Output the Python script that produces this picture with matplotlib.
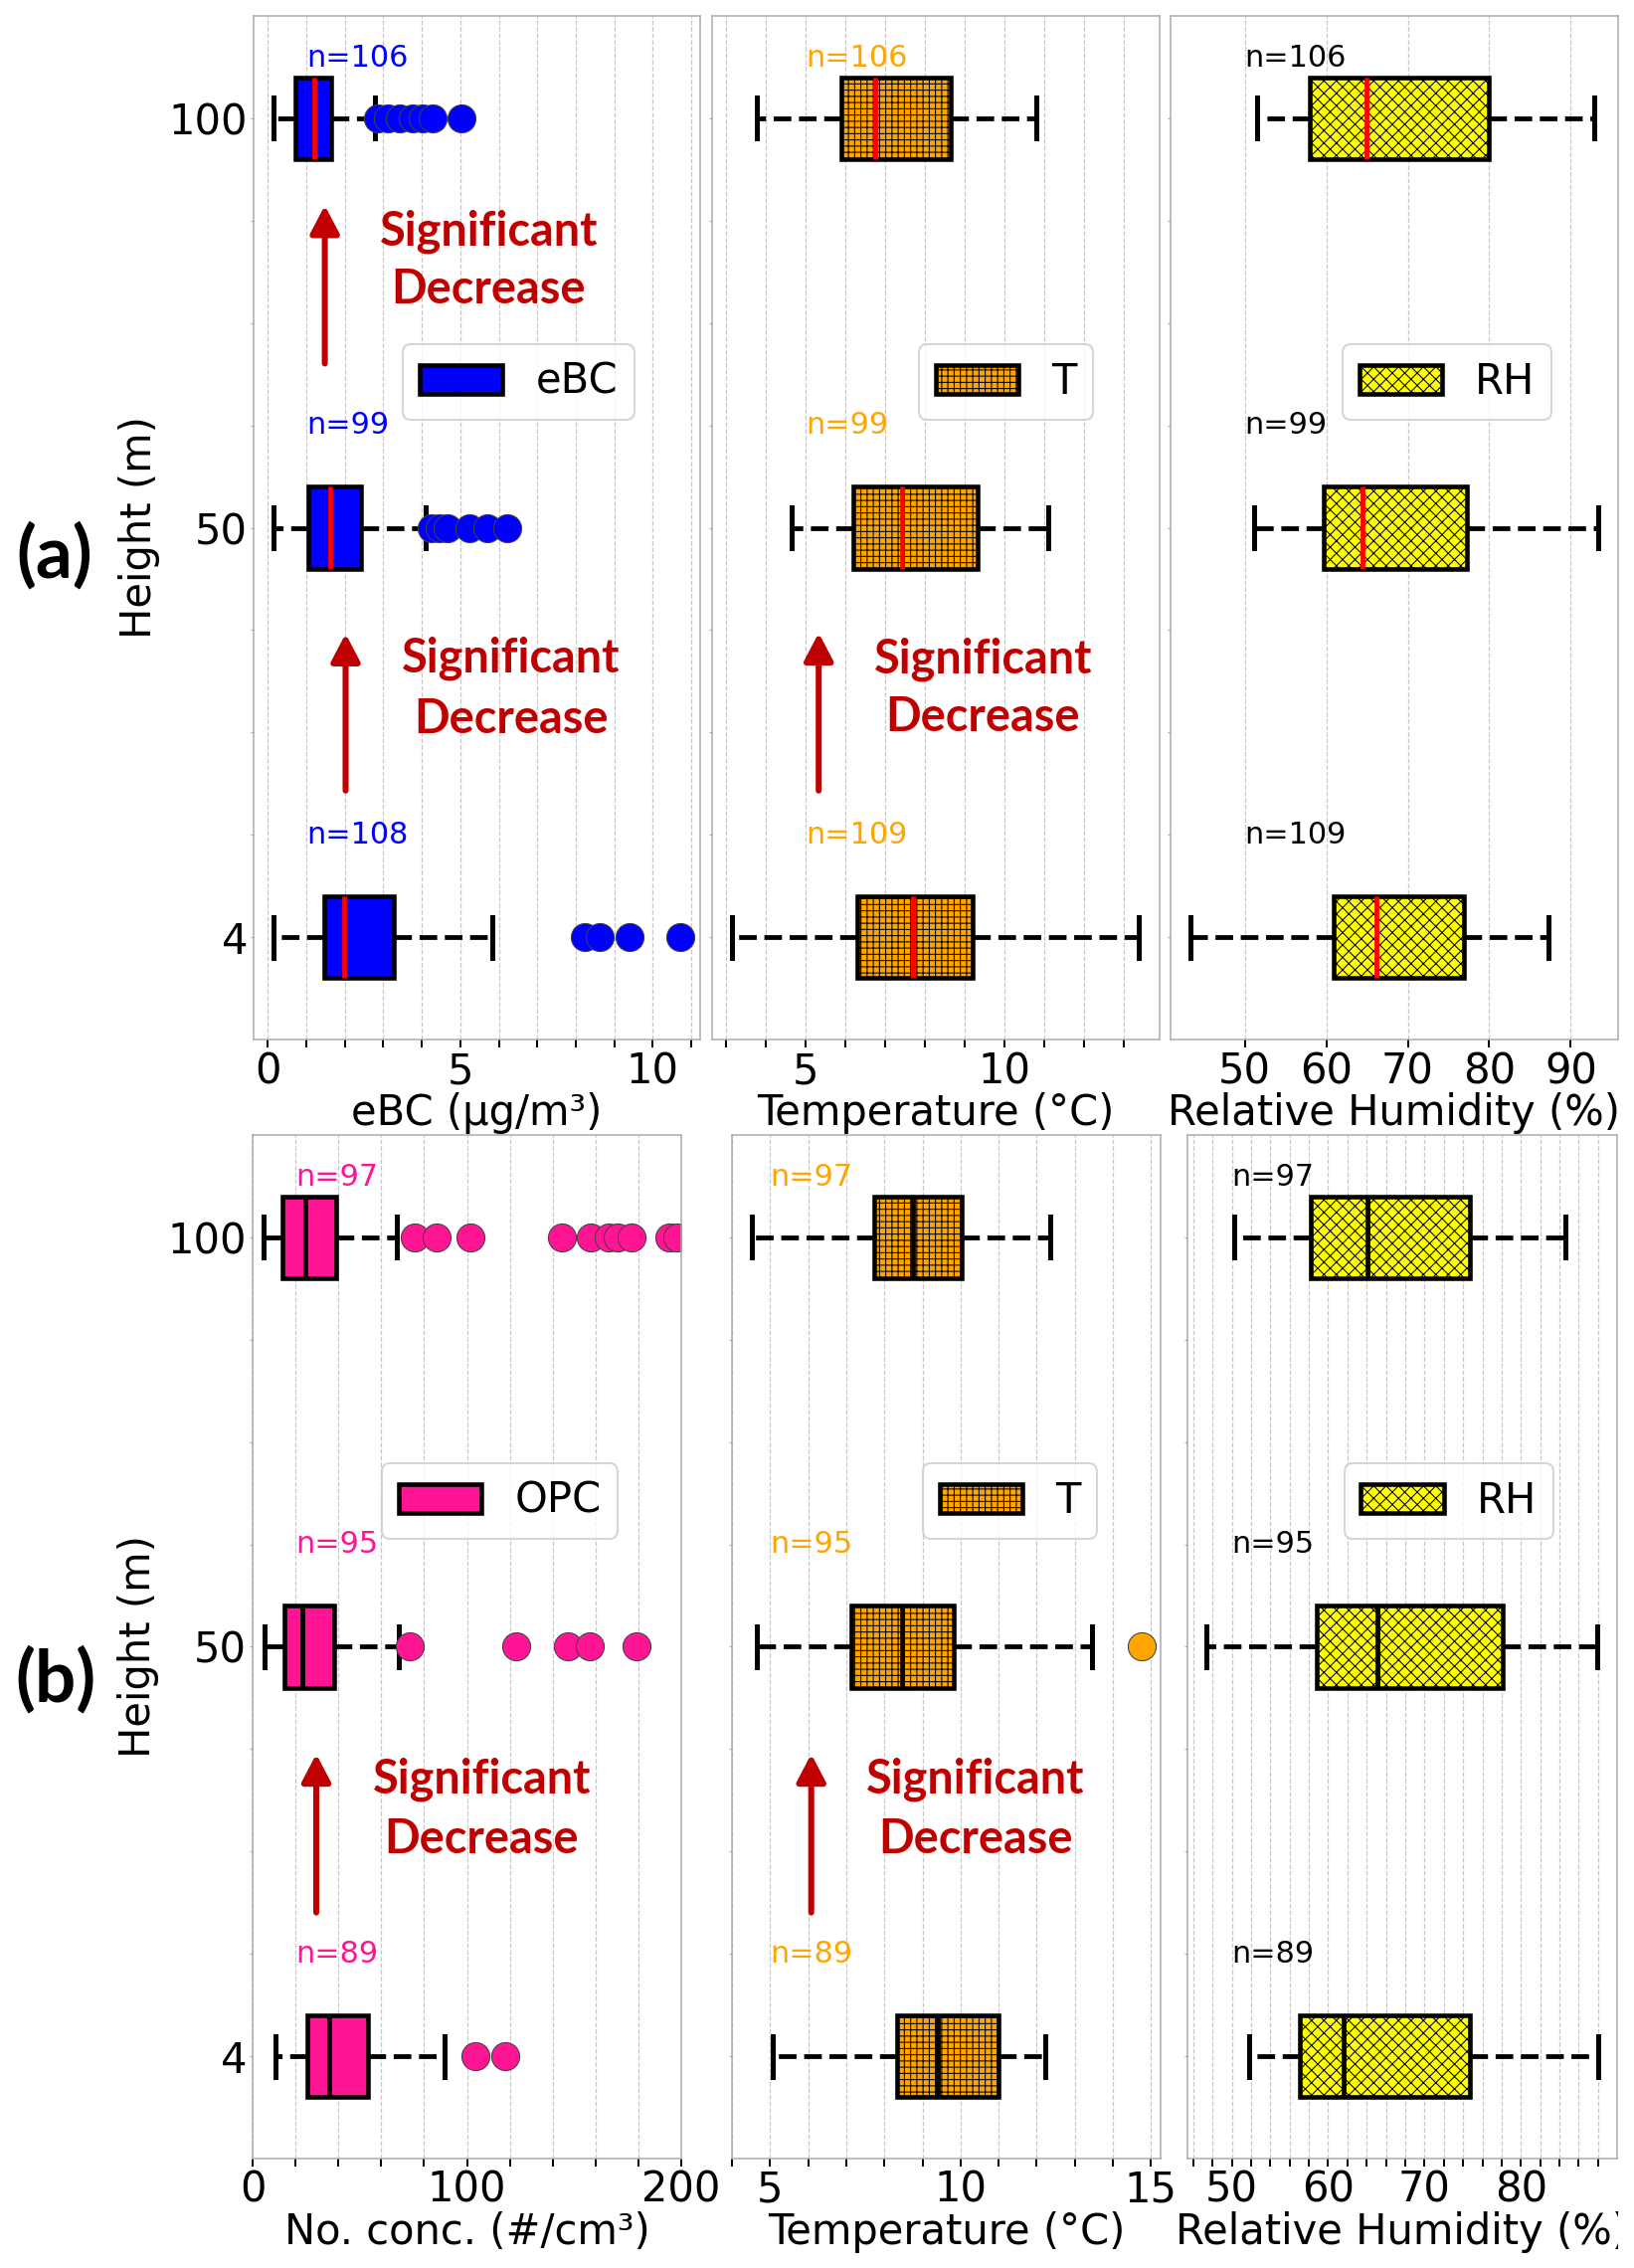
import matplotlib
matplotlib.use('Agg')
import matplotlib.pyplot as plt
from matplotlib.ticker import MultipleLocator, FixedLocator, NullLocator
from matplotlib.transforms import Bbox, TransformedBbox

DPI = 150
def px(v):
    return v * 72.0 / DPI

plt.rcParams['font.family'] = ['DejaVu Sans']
plt.rcParams['hatch.linewidth'] = 0.5

# ---------------- data ----------------
heights = ['4', '50', '100']          # categorical positions 1, 2, 3

# panel (a)
ebc_whislo = [0.15, 0.15, 0.15]
ebc_q1 = [1.47, 1.05, 0.72]
ebc_med = [1.98, 1.63, 1.20]
ebc_q3 = [3.27, 2.41, 1.64]
ebc_whishi = [5.83, 4.11, 2.77]
ebc_fliers = [[8.23, 8.63, 9.39, 10.72],
              [4.26, 4.47, 4.67, 5.23, 5.70, 6.21],
              [2.86, 3.12, 3.42, 3.77, 4.02, 4.28, 5.03]]
ebc_n = [108, 99, 106]

ta_whislo = [3.15, 4.65, 3.78]
ta_q1 = [6.31, 6.20, 5.90]
ta_med = [7.71, 7.42, 6.76]
ta_q3 = [9.20, 9.32, 8.65]
ta_whishi = [13.38, 11.11, 10.80]
ta_fliers = [[], [], []]
ta_n = [109, 99, 106]

rha_whislo = [43.4, 51.1, 51.5]
rha_q1 = [60.9, 59.7, 58.0]
rha_med = [66.2, 64.4, 64.9]
rha_q3 = [76.9, 77.3, 80.0]
rha_whishi = [87.2, 93.3, 92.9]
rha_fliers = [[], [], []]
rha_n = [109, 99, 106]

# panel (b)
opc_whislo = [10.5, 5.6, 5.1]
opc_q1 = [25.5, 15.0, 14.1]
opc_med = [35.7, 23.2, 24.4]
opc_q3 = [53.8, 38.0, 38.8]
opc_whishi = [89.7, 68.4, 67.1]
opc_fliers = [[104.1, 118.0],
              [73.1, 123.0, 147.3, 157.4, 179.0],
              [75.8, 86.0, 101.8, 144.3, 158.0, 166.0, 170.3, 176.8, 194.6, 198.0]]
opc_n = [89, 95, 97]

tb_whislo = [5.06, 4.65, 4.52]
tb_q1 = [8.34, 7.12, 7.72]
tb_med = [9.40, 8.46, 8.74]
tb_q3 = [11.00, 9.83, 10.02]
tb_whishi = [12.22, 13.44, 12.35]
tb_fliers = [[], [14.75], []]
tb_n = [89, 95, 97]

rhb_whislo = [51.8, 47.4, 50.2]
rhb_q1 = [57.1, 58.8, 58.2]
rhb_med = [61.6, 65.1, 64.1]
rhb_q3 = [74.7, 78.1, 74.7]
rhb_whishi = [88.0, 87.9, 84.6]
rhb_fliers = [[], [], []]
rhb_n = [89, 95, 97]

# vertical offsets of the "n=" labels above each box (positions 1, 2, 3)
n_offsets = [0.229, 0.229, 0.127]

# annotations: (x, y_tail, y_tip) arrows and (x, y_line1, y_line2) texts
arrows = {
    'a_ebc': [(1.48, 2.401, 2.787), (2.02, 1.358, 1.741)],
    'a_t': [(5.33, 1.358, 1.743)],
    'b_opc': [(29.7, 1.351, 1.738)],
    'b_t': [(6.08, 1.351, 1.738)],
}
sig_texts = {
    'a_ebc': [(5.74, 2.689, 2.547), (6.31, 1.647, 1.499)],
    'a_t': [(9.46, 1.645, 1.502)],
    'b_opc': [(106.8, 1.643, 1.496)],
    'b_t': [(10.39, 1.643, 1.496)],
}

# ---------------- figure ----------------
fig = plt.figure(figsize=(1643 / DPI, 2280 / DPI), dpi=DPI)

H = 1029 / 2280
ya = (2280 - 1045) / 2280
yb = (2280 - 2170) / 2280
ax_pos = {
    'a_ebc': [255 / 1643, ya, 449 / 1643, H],
    'a_t': [716 / 1643, ya, 450 / 1643, H],
    'a_rh': [1177 / 1643, ya, 450 / 1643, H],
    'b_opc': [254 / 1643, yb, 431 / 1643, H],
    'b_t': [736 / 1643, yb, 431 / 1643, H],
    'b_rh': [1194 / 1643, yb, 432 / 1643, H],
}

SIG_COLOR = '#C00000'


def make_stats(wlo, q1, med, q3, whi, fl):
    out = []
    for i in range(len(q1)):
        out.append(dict(whislo=wlo[i], q1=q1[i], med=med[i], q3=q3[i],
                        whishi=whi[i], fliers=fl[i], label=heights[i]))
    return out


def draw(key, stats, color, hatch, medcolor, n, ncolor, nx, xlim, major, minor,
         xlabel, leg_label, first_col):
    ax = fig.add_axes(ax_pos[key])
    ax.set_axisbelow(True)
    bp = ax.bxp(stats, positions=[1, 2, 3], widths=0.2, vert=False,
                patch_artist=True, showfliers=True,
                boxprops=dict(facecolor=color, edgecolor='black', linewidth=2.2,
                              hatch=hatch),
                medianprops=dict(color=medcolor, linewidth=2.3),
                whiskerprops=dict(color='black', linewidth=2.3, linestyle='--'),
                capprops=dict(color='black', linewidth=2.4),
                flierprops=dict(marker='o', markerfacecolor=color,
                                markeredgecolor='#404040', markeredgewidth=0.5,
                                markersize=13.5, linestyle='none'))
    ax.set_xlim(*xlim)
    ax.set_ylim(0.75, 3.25)
    ax.xaxis.set_major_locator(MultipleLocator(major))
    if minor:
        ax.xaxis.set_minor_locator(MultipleLocator(minor))
    else:
        ax.xaxis.set_minor_locator(NullLocator())
    ax.yaxis.set_major_locator(FixedLocator([1, 2, 3]))
    ax.yaxis.set_minor_locator(FixedLocator([1.25, 1.5, 1.75, 2.25, 2.5, 2.75]))
    if first_col:
        ax.set_yticklabels(heights)
        ax.set_ylabel('Height (m)', fontsize=20)
    else:
        ax.set_yticklabels([])
    ax.grid(True, axis='x', which='both', linestyle='--', color='#c8c8c8',
            linewidth=0.6)
    ax.tick_params(axis='x', which='both', length=px(8), width=px(2),
                   color='black', labelsize=20, pad=px(3))
    ax.tick_params(axis='y', which='both', length=px(3), width=px(1.2),
                   color='#aaaaaa', labelsize=20, pad=px(3))
    for sp in ax.spines.values():
        sp.set_color('#aaaaaa')
        sp.set_linewidth(px(1.5))
    ax.set_xlabel(xlabel, fontsize=20, labelpad=0)
    for i, p in enumerate([1, 2, 3]):
        ax.text(nx, p + n_offsets[i], 'n=%d' % n[i], color=ncolor, fontsize=14.5,
                ha='left', va='baseline')
    ax.legend([bp['boxes'][0]], [leg_label], loc='upper right',
              bbox_to_anchor=(0.852, 0.679), borderaxespad=0, fontsize=20,
              framealpha=0.8)
    for (x, y0, y1) in arrows.get(key, []):
        ax.annotate('', xy=(x, y1), xytext=(x, y0),
                    arrowprops=dict(arrowstyle='-|>,head_length=0.4,head_width=0.21',
                                    color=SIG_COLOR, lw=2.9, mutation_scale=28,
                                    shrinkA=0, shrinkB=0))
    for (x, b1, b2) in sig_texts.get(key, []):
        ax.text(x, b1, 'Significant', color=SIG_COLOR, fontsize=22.5,
                family='Lato', weight='bold', ha='center', va='baseline')
        ax.text(x, b2, 'Decrease', color=SIG_COLOR, fontsize=22.5,
                family='Lato', weight='bold', ha='center', va='baseline')
    return ax


draw('a_ebc', make_stats(ebc_whislo, ebc_q1, ebc_med, ebc_q3, ebc_whishi, ebc_fliers),
     'blue', None, 'red', ebc_n, 'blue', 1.0, (-0.37, 11.23), 5, 1,
     'eBC (µg/m³)', 'eBC', True)
draw('a_t', make_stats(ta_whislo, ta_q1, ta_med, ta_q3, ta_whishi, ta_fliers),
     'orange', '++++', 'red', ta_n, 'orange', 5.0, (2.65, 13.9), 5, 1,
     'Temperature (°C)', 'T', False)
draw('a_rh', make_stats(rha_whislo, rha_q1, rha_med, rha_q3, rha_whishi, rha_fliers),
     'yellow', 'xxxx', 'red', rha_n, 'black', 50.0, (40.9, 95.8), 10, None,
     'Relative Humidity (%)', 'RH', False)
draw('b_opc', make_stats(opc_whislo, opc_q1, opc_med, opc_q3, opc_whishi, opc_fliers),
     'deeppink', None, 'black', opc_n, 'deeppink', 20.0, (0, 200), 100, 20,
     'No. conc. (#/cm³)', 'OPC', True)
draw('b_t', make_stats(tb_whislo, tb_q1, tb_med, tb_q3, tb_whishi, tb_fliers),
     'orange', '++++', 'black', tb_n, 'orange', 5.0, (4.0, 15.25), 5, 1,
     'Temperature (°C)', 'T', False)
axrh = draw('b_rh', make_stats(rhb_whislo, rhb_q1, rhb_med, rhb_q3, rhb_whishi, rhb_fliers),
            'yellow', 'xxxx', 'black', rhb_n, 'black', 50.0, (45.4, 89.98), 10, 2,
            'Relative Humidity (%)', 'RH', False)
lbl = axrh.xaxis.label
lbl.set_clip_box(TransformedBbox(Bbox([[0, 0], [1627 / 1643, 1]]), fig.transFigure))
lbl.set_clip_on(True)

fig.text(55 / 1643, 1 - 559 / 2280, '(a)', fontsize=35, family='Lato',
         weight='bold', ha='center', va='center')
fig.text(56 / 1643, 1 - 1689 / 2280, '(b)', fontsize=35, family='Lato',
         weight='bold', ha='center', va='center')

fig.savefig('out.png', dpi=DPI)
